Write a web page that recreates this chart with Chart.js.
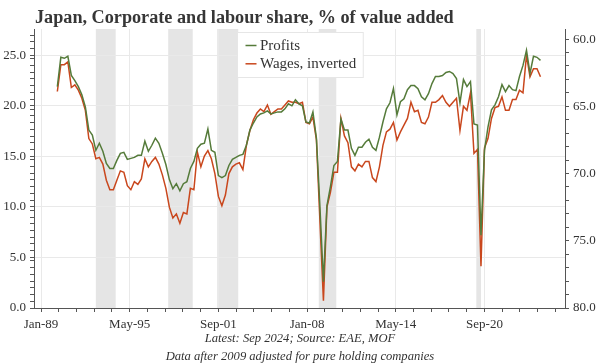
<!DOCTYPE html>
<html><head><meta charset="utf-8">
<script src="https://cdn.jsdelivr.net/npm/chart.js@4.4.1/dist/chart.umd.min.js"></script>
<style>
html,body{margin:0;padding:0;background:#fff;}
#wrap{position:relative;width:600px;height:364px;overflow:hidden;}
#c{position:absolute;left:0;top:0;}
#title{position:absolute;left:35px;top:6px;font:bold 18.2px "Liberation Serif",serif;color:#363636;white-space:nowrap;line-height:22px;}
.foot{position:absolute;left:0;width:600px;text-align:center;font:italic 12.6px "Liberation Serif",serif;color:#333;white-space:nowrap;line-height:16px;}
</style></head><body>
<div id="wrap">
<canvas id="c" width="600" height="364"></canvas>
<div id="title">Japan, Corporate and labour share, % of value added</div>
<div class="foot" style="top:330px">Latest: Sep 2024; Source: EAE, MOF</div>
<div class="foot" style="top:348px">Data after 2009 adjusted for pure holding companies</div>
</div>
<script>
// ---- data ----
const quarters = [
'1990-03','1990-06','1990-09','1990-12','1991-03','1991-06','1991-09','1991-12',
'1992-03','1992-06','1992-09','1992-12','1993-03','1993-06','1993-09','1993-12',
'1994-03','1994-06','1994-09','1994-12','1995-03','1995-06','1995-09','1995-12',
'1996-03','1996-06','1996-09','1996-12','1997-03','1997-06','1997-09','1997-12',
'1998-03','1998-06','1998-09','1998-12','1999-03','1999-06','1999-09','1999-12',
'2000-03','2000-06','2000-09','2000-12','2001-03','2001-06','2001-09','2001-12',
'2002-03','2002-06','2002-09','2002-12','2003-03','2003-06','2003-09','2003-12',
'2004-03','2004-06','2004-09','2004-12','2005-03','2005-06','2005-09','2005-12',
'2006-03','2006-06','2006-09','2006-12','2007-03','2007-06','2007-09','2007-12',
'2008-03','2008-06','2008-09','2008-12','2009-03','2009-06','2009-09','2009-12',
'2010-03','2010-06','2010-09','2010-12','2011-03','2011-06','2011-09','2011-12',
'2012-03','2012-06','2012-09','2012-12','2013-03','2013-06','2013-09','2013-12',
'2014-03','2014-06','2014-09','2014-12','2015-03','2015-06','2015-09','2015-12',
'2016-03','2016-06','2016-09','2016-12','2017-03','2017-06','2017-09','2017-12',
'2018-03','2018-06','2018-09','2018-12','2019-03','2019-06','2019-09','2019-12',
'2020-03','2020-06','2020-09','2020-12','2021-03','2021-06','2021-09','2021-12',
'2022-03','2022-06','2022-09','2022-12','2023-03','2023-06','2023-09','2023-12',
'2024-03','2024-06','2024-09'];

const profits = [
21.9,24.8,24.7,24.9,23.0,22.5,21.9,21.1,19.9,17.6,
17.1,15.6,16.3,15.5,14.3,13.8,13.8,14.6,15.3,15.4,
14.7,14.8,14.9,15.1,15.1,16.5,15.5,16.1,16.8,16.3,
15.3,14.2,12.7,11.8,12.3,11.6,12.3,12.5,13.8,14.5,
15.8,16.2,16.3,17.7,15.6,15.4,13.1,12.9,13.1,14.1,
14.7,14.9,15.1,15.2,16.1,17.6,18.3,18.9,19.2,19.3,
19.5,19.2,19.3,19.4,19.4,19.7,20.2,20.0,20.6,20.2,
20.0,18.4,18.3,19.4,16.8,10.0,2.6,10.1,12.0,14.1,
14.5,18.7,17.6,17.6,15.8,15.1,15.9,15.9,16.4,16.7,
15.9,15.6,16.9,18.4,19.7,20.3,21.7,19.1,20.4,20.7,
21.6,22.0,22.0,21.7,20.9,20.6,21.2,22.2,22.9,22.9,
23.0,23.3,23.4,23.2,22.7,20.3,22.6,21.9,22.4,18.2,
18.1,7.2,15.6,17.9,19.6,20.1,20.9,22.1,21.4,22.0,
21.6,21.5,22.9,24.0,25.5,23.2,24.9,24.8,24.5];

const wages = [
63.9,61.9,61.9,61.7,63.6,63.4,63.8,64.4,65.3,67.4,
67.8,68.9,68.8,69.3,70.5,71.2,71.2,70.5,69.8,69.9,
70.9,71.2,70.6,70.8,70.4,68.9,69.5,69.1,68.8,69.3,
70.1,71.1,72.5,73.3,73.0,73.7,72.9,73.0,71.1,71.2,
68.4,69.5,68.7,68.3,68.9,70.0,71.7,72.4,71.6,70.0,
69.5,69.3,69.2,69.7,67.9,66.8,66.0,65.5,65.2,65.4,
64.9,65.6,65.4,65.2,65.2,64.9,64.6,64.7,64.7,64.8,
64.7,66.2,66.3,65.8,67.5,73.5,79.45,72.5,71.4,69.9,
69.9,65.9,67.2,67.7,69.5,69.8,69.3,69.5,69.1,69.1,
70.3,70.6,69.5,67.9,66.9,66.7,66.2,67.5,66.9,66.4,
65.9,64.7,65.4,65.3,66.2,66.3,65.8,64.7,64.7,64.5,
64.2,64.7,65.0,64.7,64.4,66.8,65.0,65.3,64.0,68.5,
68.2,76.9,68.1,67.4,65.9,65.1,65.0,64.3,65.3,65.3,
64.5,64.5,63.8,64.0,61.2,62.8,62.2,62.2,62.8];

const seriesNames = ['Profits', 'Wages, inverted'];
const xTickDates = ['1989-01','1995-05','2001-09','2008-01','2014-05','2020-09'];
const xTickLabels = ['Jan-89','May-95','Sep-01','Jan-08','May-14','Sep-20'];
const leftTicks = [0, 5, 10, 15, 20, 25];
const rightTicks = [60, 65, 70, 75, 80];
const bandStarts = ['1992-12','1998-02','2001-08','2008-11','2020-02'];
const bandEnds   = ['1994-05','1999-11','2003-02','2010-02','2020-06'];

// ---- helpers ----
const MONTH = s => { const [y, m] = s.split('-').map(Number); return (y - 1989) * 12 + (m - 1); };
const GREEN = '#557b3a', ORANGE = '#c9471d';
const AXIS = '#555', GRID = '#e9e9e9', TEXT = '#333';
const FONT = {family: '"Liberation Serif", serif', size: 13};

const xMajors = xTickDates.map(MONTH);
const xStep = (xMajors[1] - xMajors[0]) / 5;
const X_MIN = MONTH('1988-07'), X_MAX = MONTH('2026-06');
const xAll = [];
xMajors.forEach(v => { for (let j = 0; j < 5; j++) { const t = v + j * xStep; if (t <= X_MAX) xAll.push(t); } });

function buildTicks(majors, minorStep, lo, hi) {
  const out = [];
  for (let i = 0; i < majors.length; i++) {
    for (let j = 0; ; j++) {
      const t = majors[i] + j * minorStep;
      if (i < majors.length - 1 && t >= majors[i + 1] - 1e-9) break;
      if (t > hi + 1e-9) break;
      if (t >= lo - 1e-9) out.push(t);
    }
  }
  return out;
}
const isMajor = (v, list) => list.some(m => Math.abs(m - v) < 1e-6);

const yAll = buildTicks(leftTicks, 5 / 7.5, 0, 27.6);
const y2All = buildTicks(rightTicks, 1, 59.25, 80);

const bandPlugin = {
  id: 'bands',
  beforeDraw(chart) {
    const {ctx, chartArea: a, scales: {x}} = chart;
    ctx.save();
    ctx.fillStyle = '#e5e5e5';
    bandStarts.forEach((s, i) => {
      const p0 = x.getPixelForValue(MONTH(s)), p1 = x.getPixelForValue(MONTH(bandEnds[i]));
      ctx.fillRect(p0, a.top, p1 - p0, a.bottom - a.top);
    });
    ctx.restore();
  }
};

const legendPlugin = {
  id: 'boxLegend',
  afterDatasetsDraw(chart) {
    const {ctx, chartArea: a} = chart;
    ctx.save();
    ctx.font = '15px "Liberation Serif", serif';
    const tw = Math.max(...seriesNames.map(t => ctx.measureText(t).width));
    const w = 8 + 11 + 3.5 + tw + 7, h = 45;
    const x0 = Math.round((a.left + a.right) / 2 - w / 2) + 0.5, y0 = a.top + 3.5;
    ctx.fillStyle = '#fff';
    ctx.fillRect(x0, y0, w, h);
    ctx.strokeStyle = '#e6e6e6'; ctx.lineWidth = 1;
    ctx.strokeRect(x0, y0, w, h);
    chart.data.datasets.forEach((ds, i) => {
      const y = y0 + 13 + i * 18.3;
      ctx.strokeStyle = ds.borderColor; ctx.lineWidth = 1.5;
      ctx.beginPath(); ctx.moveTo(x0 + 8, y); ctx.lineTo(x0 + 19, y); ctx.stroke();
      ctx.fillStyle = TEXT; ctx.textBaseline = 'middle'; ctx.textAlign = 'left';
      ctx.fillText(ds.label, x0 + 22.5, y + 0.5);
    });
    ctx.restore();
  }
};

new Chart(document.getElementById('c'), {
  type: 'line',
  data: {
    datasets: [
      {label: seriesNames[0], data: quarters.map((q, i) => ({x: MONTH(q), y: profits[i]})),
       borderColor: GREEN, borderWidth: 1.5, pointRadius: 0, yAxisID: 'y', tension: 0},
      {label: seriesNames[1], data: quarters.map((q, i) => ({x: MONTH(q), y: wages[i]})),
       borderColor: ORANGE, borderWidth: 1.5, pointRadius: 0, yAxisID: 'y2', tension: 0}
    ]
  },
  options: {
    responsive: false, animation: false, devicePixelRatio: 1,
    layout: {padding: {top: 29, left: 0, right: 0, bottom: 0}},
    plugins: {legend: {display: false}, tooltip: {enabled: false}, title: {display: false}},
    scales: {
      x: {
        type: 'linear', min: X_MIN, max: X_MAX,
        afterBuildTicks: s => { s.ticks = xAll.map(v => ({value: v})); },
        afterFit: s => { s.height = 56; },
        ticks: {autoSkip: false, maxRotation: 0, padding: 5, color: TEXT, font: FONT,
          callback: v => { const i = xMajors.findIndex(m => Math.abs(m - v) < 1e-6); return i >= 0 ? xTickLabels[i] : ''; }},
        grid: {color: c => (c.tick && isMajor(c.tick.value, xMajors)) ? GRID : 'rgba(0,0,0,0)',
               tickColor: AXIS, tickLength: 4, lineWidth: 1},
        border: {color: AXIS, width: 1}
      },
      y: {
        position: 'left', min: 0, max: 27.6,
        afterBuildTicks: s => { s.ticks = yAll.map(v => ({value: v})); },
        afterFit: s => { s.width = 34; },
        ticks: {autoSkip: false, padding: 4, color: TEXT, font: FONT,
          callback: v => isMajor(v, leftTicks) ? v.toFixed(1) : ''},
        grid: {color: c => (c.tick && isMajor(c.tick.value, leftTicks) && c.tick.value > 0) ? GRID : 'rgba(0,0,0,0)',
               tickColor: AXIS, tickLength: 4},
        border: {color: AXIS, width: 1}
      },
      y2: {
        position: 'right', reverse: true, min: 59.25, max: 80,
        afterBuildTicks: s => { s.ticks = y2All.map(v => ({value: v})); },
        afterFit: s => { s.width = 35; },
        ticks: {autoSkip: false, padding: 4, color: TEXT, font: FONT,
          callback: v => isMajor(v, rightTicks) ? v.toFixed(1) : ''},
        grid: {drawOnChartArea: false, tickColor: AXIS, tickLength: 4},
        border: {color: AXIS, width: 1}
      }
    }
  },
  plugins: [bandPlugin, legendPlugin]
});
</script>
</body></html>
